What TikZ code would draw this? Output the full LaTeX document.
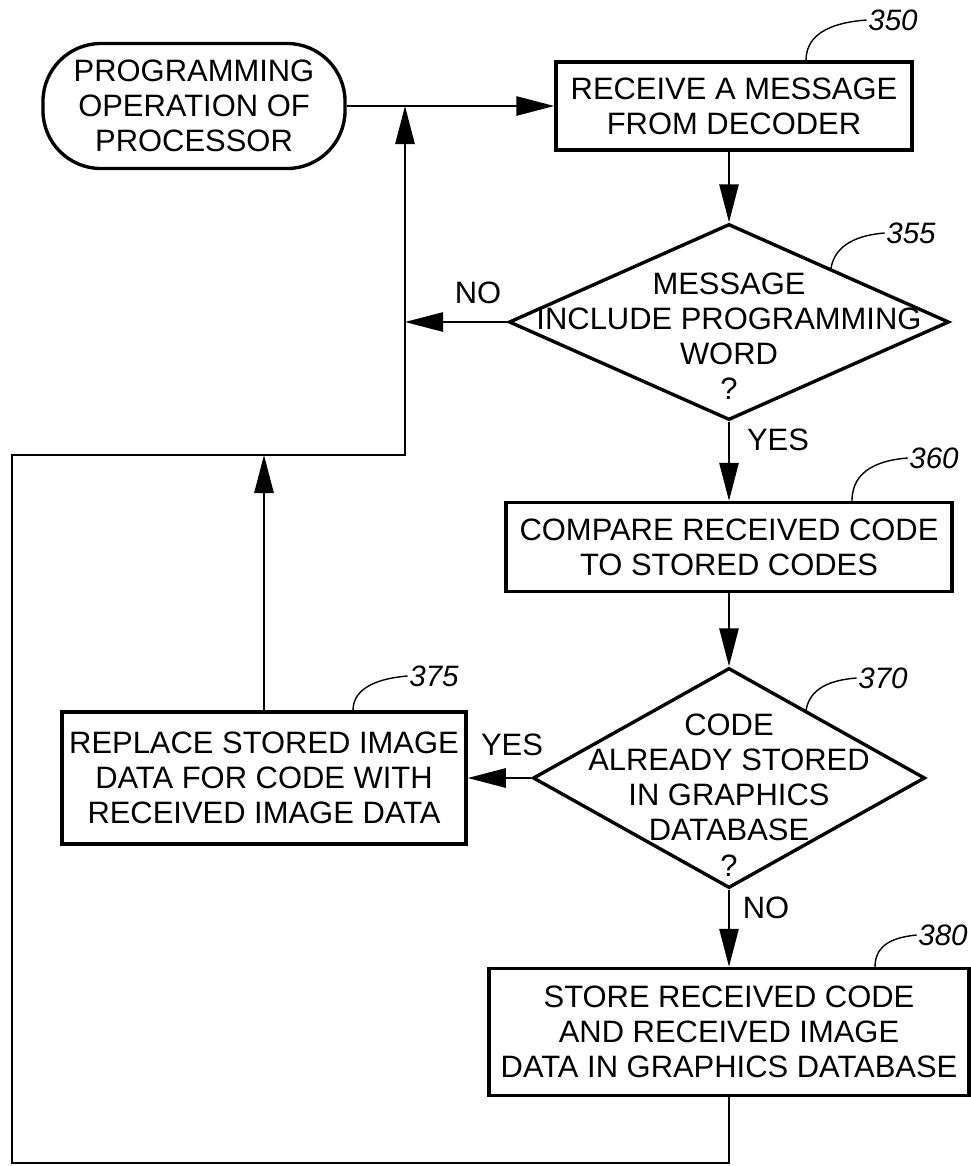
\documentclass[tikz,border=0pt]{standalone}
\usepackage{fontspec}
\setmainfont{Liberation Sans}
\usetikzlibrary{arrows.meta,shapes.geometric,calc}

\tikzset{
  every node/.style={font=\fontsize{22}{25}\selectfont},
  term/.style={draw, line width=2.4pt, rectangle, rounded corners=1.45cm, inner sep=0pt, align=center},
  procbox/.style={draw, line width=2.4pt, rectangle, inner sep=0pt, align=center},
  decision/.style={draw, line width=2.4pt, diamond, inner sep=0pt},
  refnum/.style={font=\fontsize{21}{25}\selectfont\itshape, inner sep=1pt},
  link/.style={line width=1.5pt},
  flow/.style={line width=1.5pt, -{Triangle[length=0.95cm,width=0.48cm]}},
  lead/.style={line width=1pt}
}

\begin{document}
\begin{tikzpicture}[x=0.025cm, y=-0.025cm]
            \useasboundingbox (0,0) rectangle (971,1166);

            % Blocks
            \node[term, minimum width=7.55cm, minimum height=3.125cm] (start) at (194,106)
                {PROGRAMMING\\OPERATION OF\\PROCESSOR};
            \node[procbox, minimum width=8.9cm, minimum height=2.2cm] (b350) at (734,106)
                {RECEIVE A MESSAGE\\FROM DECODER};
            \node[decision, minimum width=11cm, minimum height=4.9cm] (d355) at (729,322) {};
            \node[align=center] (t355) at (729,336) {MESSAGE\\INCLUDE PROGRAMMING\\WORD\\?};
            \node[procbox, minimum width=11.15cm, minimum height=2.225cm] (b360) at (729,547)
                {COMPARE RECEIVED CODE\\TO STORED CODES};
            \node[decision, minimum width=9.8cm, minimum height=5.5cm] (d370) at (729,778) {};
            \node[align=center] (t370) at (729,795) {CODE\\ALREADY STORED\\IN GRAPHICS\\DATABASE\\?};
            \node[procbox, minimum width=10.1cm, minimum height=3.3cm] (b375) at (264,778)
                {REPLACE STORED IMAGE\\DATA FOR CODE WITH\\RECEIVED IMAGE DATA};
            \node[procbox, minimum width=12cm, minimum height=3.175cm] (b380) at (729,1032)
                {STORE RECEIVED CODE\\AND RECEIVED IMAGE\\DATA IN GRAPHICS DATABASE};

            % Junctions
            \coordinate (j1) at (405,106);
            \coordinate (c1) at (405,455);
            \coordinate (c2) at (12,455);
            \coordinate (c3) at (12,1163);
            \coordinate (c4) at (729,1163);
            \coordinate (c5) at (264,455);

            % Connectors
            \draw[link] (start.east) -- (j1);
            \draw[flow] (j1) -- (b350.west);
            \draw[flow] (b350.south -| d355.north) -- (d355.north);
            \draw[flow] (d355.west) -- (d355.west -| j1);
            \draw[flow] (d355.south) -- (b360.north);
            \draw[flow] (b360.south) -- (d370.north);
            \draw[flow] (d370.west) -- (b375.east);
            \draw[flow] (d370.south) -- (b380.north);
            \draw[flow] (b375.north) -- (c5);
            \draw[flow] (b380.south) -- (c4) -- (c3) -- (c2) -- (c1) -- (j1);

            % Branch labels
            \node (no1) at (478,293) {NO};
            \node (yes1) at (778,440) {YES};
            \node (yes2) at (512,745) {YES};
            \node (no2) at (766,908) {NO};

            % Reference numerals
            \node[refnum] (n350) at (893,20) {350};
            \node[refnum] (n355) at (911,233) {355};
            \node[refnum] (n360) at (934,458) {360};
            \node[refnum] (n370) at (883,678) {370};
            \node[refnum] (n375) at (434,676) {375};
            \node[refnum] (n380) at (943,935) {380};
            \draw[lead] ($(b350.north)+(72,0)$) .. controls +(0,-30) and +(-28,2) .. (n350.west);
            \draw[lead] ($(d355.north)!0.46!(d355.east)$) .. controls +(4,-24) and +(-26,2) .. (n355.west);
            \draw[lead] ($(b360.north)+(123,0)$) .. controls +(0,-32) and +(-26,2) .. (n360.west);
            \draw[lead] ($(d370.north)!0.39!(d370.east)$) .. controls +(4,-22) and +(-26,2) .. (n370.west);
            \draw[lead] ($(b375.north)+(89,0)$) .. controls +(0,-24) and +(-26,2) .. (n375.west);
            \draw[lead] ($(b380.north)+(146,0)$) .. controls +(0,-24) and +(-20,2) .. (n380.west);

        \end{tikzpicture}
\end{document}
